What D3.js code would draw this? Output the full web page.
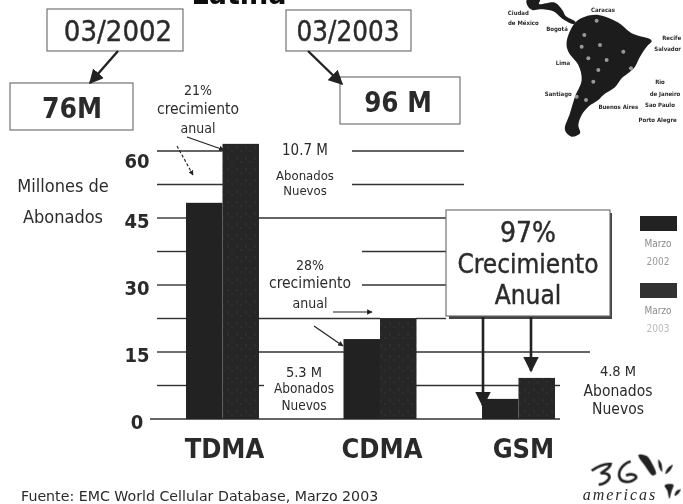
<!DOCTYPE html>
<html lang="es">
<head>
<meta charset="utf-8">
<title>Abonados América Latina</title>
<script src="https://d3js.org/d3.v7.min.js"></script>
<style>
html, body { margin: 0; padding: 0; background: #fff; }
svg { display: block; }
text { font-family: "DejaVu Sans Condensed", "DejaVu Sans", sans-serif; fill: #2b2b2b; }
</style>
</head>
<body>
<svg width="683" height="504"></svg>
<script>
// values
var categories = ["TDMA", "CDMA", "GSM"];
var periods = ["Marzo 2002", "Marzo 2003"];
var subs2002 = [48.4, 17.9, 4.5];
var subs2003 = [61.6, 22.6, 9.2];
var gridValues = [0, 7.5, 15, 22.5, 30, 37.5, 45, 52.5, 60];
var tickLabels = [0, 15, 30, 45, 60];

var svg = d3.select("svg");

var defs = svg.append("defs");
defs.append("filter").attr("id", "soft").append("feGaussianBlur").attr("stdDeviation", 0.5);
var grain = defs.append("pattern").attr("id", "grain").attr("patternUnits", "userSpaceOnUse")
  .attr("width", 9).attr("height", 11);
grain.append("rect").attr("width", 9).attr("height", 11).attr("fill", "#262626");
grain.append("rect").attr("x", 2).attr("y", 3).attr("width", 2).attr("height", 3).attr("fill", "#2f2f2f");
grain.append("rect").attr("x", 6).attr("y", 7).attr("width", 2).attr("height", 2).attr("fill", "#2d2d2d");
function addHead(id, size) {
  defs.append("marker").attr("id", id).attr("viewBox", "0 0 10 10")
    .attr("refX", 9).attr("refY", 5).attr("markerWidth", size).attr("markerHeight", size)
    .attr("markerUnits", "strokeWidth").attr("orient", "auto")
    .append("path").attr("d", "M0,0L10,5L0,10Z").attr("fill", "#222");
}
addHead("head", 4.5);
addHead("headBig", 6);

var g = svg.append("g").attr("filter", "url(#soft)");

var y = d3.scaleLinear().domain([0, 60]).range([419, 151]);
// the groups are not evenly spaced on the slide
var xCenter = d3.scaleOrdinal().domain(categories).range([222.5, 380, 518.5]);
var xSeries = d3.scaleBand().domain(periods).range([-36.5, 36.5]);

// grid lines are broken up around the labels on the slide
var gridSpans = new Map([
  [60, [[157, 226], [352, 464]]],
  [52.5, [[157, 226], [352, 464]]],
  [45, [[157, 187], [259, 446]]],
  [37.5, [[157, 187], [362, 446]]],
  [30, [[157, 187], [362, 446]]],
  [22.5, [[157, 187], [259, 380], [416, 446]]],
  [15, [[157, 187], [259, 344], [416, 590]]],
  [7.5, [[157, 187], [259, 264], [416, 560]]],
  [0, [[150, 560]]]
]);
gridValues.forEach(function(v) {
  g.selectAll(null).data(gridSpans.get(v)).enter().append("line")
    .attr("x1", function(d) { return d[0]; })
    .attr("x2", function(d) { return d[1]; })
    .attr("y1", y(v)).attr("y2", y(v))
    .attr("stroke", "#333").attr("stroke-width", 1.4);
});

// y axis labels, the 60 sits lower than its line
var yAxis = d3.axisLeft(y).tickValues(tickLabels).tickSize(0).tickPadding(0);
var yG = g.append("g").attr("transform", "translate(148,0)").call(yAxis);
yG.select(".domain").remove();
yG.selectAll("text")
  .attr("x", -11).attr("text-anchor", "middle")
  .attr("dy", function(d) { return d === 60 ? "16px" : "9px"; })
  .style("font-size", "20px").style("font-weight", "bold").attr("fill", "#2b2b2b");

// bars
var rows = [subs2002, subs2003];
periods.forEach(function(p, i) {
  g.selectAll(null).data(categories).enter().append("rect")
    .attr("x", function(c) { return xCenter(c) + xSeries(p); })
    .attr("width", xSeries.bandwidth())
    .attr("y", function(c, k) { return y(rows[i][k]); })
    .attr("height", function(c, k) { return y(0) - y(rows[i][k]); })
    .attr("fill", i === 0 ? "#222" : "url(#grain)");
});

// category labels
g.selectAll(null).data(categories).enter().append("text")
  .attr("x", function(c) { return xCenter(c) + (c === "GSM" ? 5 : 2); })
  .attr("y", 458).attr("text-anchor", "middle")
  .style("font-size", "27px").style("font-weight", "bold")
  .text(function(c) { return c; });

function box(x, y0, w, h) {
  g.append("rect").attr("x", x).attr("y", y0).attr("width", w).attr("height", h)
    .attr("fill", "#fff").attr("stroke", "#666").attr("stroke-width", 1.1);
}
function label(t, x, yy, size, opts) {
  opts = opts || {};
  return g.append("text").attr("x", x).attr("y", yy).attr("text-anchor", opts.anchor || "middle")
    .style("font-size", size + "px").style("font-weight", opts.weight || "normal")
    .style("font-style", opts.style || "normal").style("letter-spacing", opts.spacing || "0")
    .style("fill", opts.fill || "#2b2b2b")
    .style("stroke", opts.heavy ? "#2b2b2b" : "none").style("stroke-width", opts.heavy ? 0.4 : 0)
    .text(t);
}
function arrow(x1, y1, x2, y2, w, opts) {
  opts = opts || {};
  g.append("line").attr("x1", x1).attr("y1", y1).attr("x2", x2).attr("y2", y2)
    .attr("stroke", "#222").attr("stroke-width", w)
    .attr("stroke-dasharray", opts.dash || null)
    .attr("marker-end", "url(#" + (opts.big ? "headBig" : "head") + ")");
}

// title is cut by the top of the slide
label("Latina", 239, 4, 30, { weight: "bold", fill: "#111" });

box(47, 9, 136, 42);
label("03/2002", 118, 41, 29, { heavy: true });
box(10, 83, 123, 47);
label("76M", 72, 118, 28, { weight: "bold" });
box(286, 10, 125, 41);
label("03/2003", 348, 41, 27.5, { heavy: true });
box(340, 77, 120, 47);
label("96 M", 398, 112, 27.5, { weight: "bold" });
arrow(118, 51, 90, 83, 2.4, { big: true });
arrow(308, 51, 342, 84, 2.4, { big: true });

label("21%", 198, 95, 14);
label("crecimiento", 198, 114, 15.5);
label("anual", 198, 133, 14);
arrow(187, 137, 224, 150, 1.2);
arrow(177, 146, 193, 175, 1.1, { dash: "3,2" });

label("10.7 M", 305, 155, 15);
label("Abonados", 305, 180, 13);
label("Nuevos", 305, 195, 13);

label("Millones de", 63, 192, 18);
label("Abonados", 63, 223, 18);

label("28%", 310, 270, 14);
label("crecimiento", 310, 288, 15.5);
label("anual", 310, 308, 14);
arrow(333, 312, 372, 312, 1.2);
arrow(314, 326, 343, 346, 1.2);

label("5.3 M", 304, 377, 14.5);
label("Abonados", 304, 393, 13.5);
label("Nuevos", 304, 410, 13.5);

label("4.8 M", 618, 376, 14.5);
label("Abonados", 618, 396, 15.5);
label("Nuevos", 618, 414, 15.5);

// growth box with its shadow
g.append("rect").attr("x", 449).attr("y", 213).attr("width", 163).attr("height", 106).attr("fill", "#444");
box(446, 210, 164, 106);
label("97%", 528, 242, 28, { heavy: true });
label("Crecimiento", 528, 273, 26, { heavy: true });
label("Anual", 528, 304, 26, { heavy: true });
arrow(483, 317, 483, 406, 2.6, { big: true });
arrow(531, 317, 531, 371, 2.6, { big: true });

// legend
var legendY = d3.scaleBand().domain(periods).range([216, 350]);
periods.forEach(function(p, i) {
  var top = legendY(p);
  g.append("rect").attr("x", 640).attr("y", top).attr("width", 37).attr("height", 15)
    .attr("fill", i === 0 ? "#222" : "#333");
  var parts = p.split(" ");
  label(parts[0], 658, top + 31, 10, { fill: "#8a8a8a" });
  label(parts[1], 658, top + 49, 10, { fill: i === 0 ? "#9a9a9a" : "#bbb" });
});

label("Fuente: EMC World Cellular Database, Marzo 2003", 21, 501, 14.2, { anchor: "start" })
  .style("font-family", "'DejaVu Sans', sans-serif");

// map of South America, drawn by hand from the slide (illustration, not data)
var map = svg.append("g").attr("filter", "url(#soft)").attr("transform", "translate(475,0) scale(0.3333)");
var blob = d3.line().curve(d3.curveCatmullRomClosed);
var southAmerica = [[300,68],[330,50],[370,45],[415,60],[440,75],[470,100],[530,122],[515,140],[495,170],[480,200],[465,215],[440,235],[420,262],[385,285],[370,300],[340,320],[320,345],[310,375],[315,400],[290,410],[270,390],[285,340],[300,290],[320,240],[310,195],[280,155],[275,125]];
var isthmus = [[155,0],[195,0],[192,12],[240,8],[262,30],[272,48],[302,66],[296,72],[262,56],[235,34],[195,28],[172,30],[158,18]];
map.append("path").attr("d", blob(southAmerica)).attr("fill", "#1c1c1c");
map.append("path").attr("d", blob(isthmus)).attr("fill", "#1c1c1c");
var lights = [[365,62],[328,105],[375,135],[445,155],[468,205],[370,210],[333,300],[305,290],[320,140],[340,175],[355,245],[395,180]];
map.selectAll("circle").data(lights).enter().append("circle")
  .attr("cx", function(d) { return d[0]; }).attr("cy", function(d) { return d[1]; })
  .attr("r", 6).attr("fill", "#999");
var cityNames = [["Caracas",384,37],["Ciudad",130,44],["de México",145,76],["Bogotá",246,94],["Lima",264,196],["Santiago",250,288],["Buenos Aires",430,328],["Recife",590,120],["Salvador",578,152],["Rio",555,252],["de Janeiro",570,288],["Sao Paulo",555,320],["Porto Alegre",548,366]];
map.selectAll("text").data(cityNames).enter().append("text")
  .attr("x", function(d) { return d[1]; }).attr("y", function(d) { return d[2]; })
  .attr("text-anchor", "middle").style("font-size", "18px").style("font-weight", "bold")
  .text(function(d) { return d[0]; });

// 3G americas logo, traced by hand
var logo = svg.append("g").attr("filter", "url(#soft)").attr("transform", "translate(590,440) scale(0.3333)");
["M5,92C25,78 45,70 62,72C60,84 45,92 32,100C50,98 60,104 58,114C52,126 40,132 26,134",
 "M122,64C100,70 84,92 88,110C94,130 122,130 138,114C140,104 126,100 108,106"].forEach(function(d) {
  logo.append("path").attr("d", d).attr("fill", "none").attr("stroke", "#222").attr("stroke-width", 8);
});
[[[145,45],[170,48],[186,70],[198,102],[188,106],[168,82]],
 [[205,58],[214,70],[216,96],[208,84]],
 [[248,74],[240,92],[226,102],[232,86]],
 [[224,136],[250,134],[244,156],[238,176],[232,152]],
 [[272,148],[264,162],[254,168],[258,154]]].forEach(function(d) {
  logo.append("path").attr("d", blob(d)).attr("fill", "#222");
});
label("americas", 620, 500, 16, { style: "italic", spacing: "2px" }).style("font-family", "'Liberation Serif', serif");
</script>
</body>
</html>
